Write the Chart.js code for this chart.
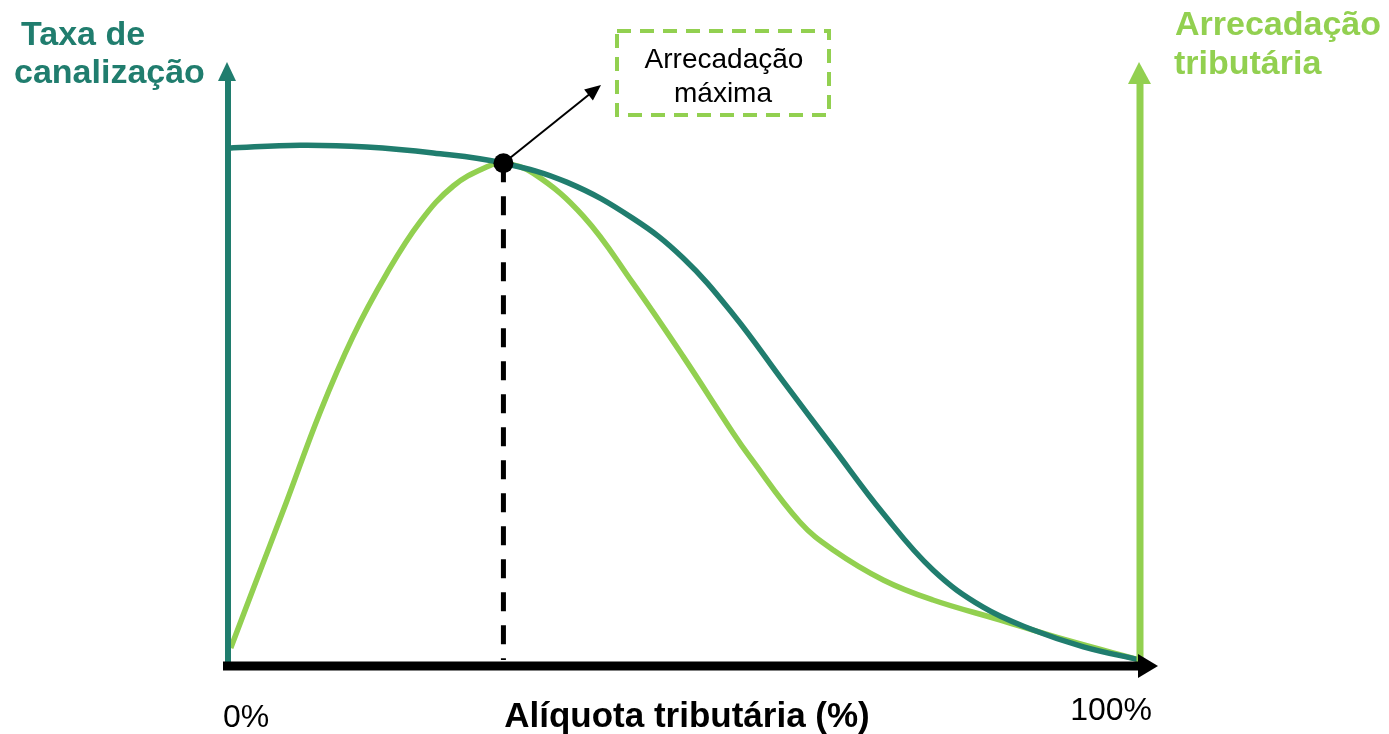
<!DOCTYPE html>
<html>
<head>
<meta charset="utf-8">
<script src="https://cdn.jsdelivr.net/npm/chart.js@4/dist/chart.umd.min.js"></script>
<style>
  html, body { margin: 0; padding: 0; background: #ffffff; }
  #wrap { width: 1389px; height: 734px; }
</style>
</head>
<body>
<div id="wrap"><canvas id="c" width="1389" height="734"></canvas></div>
<script>
// ---- Data (% of axis span) ----
const taxaX  = [0, 7.9, 15.2, 22.5, 30.2, 37.2, 44.4, 49.9, 55.4, 60.9, 66.3, 71.8, 77.3, 82.8, 88.3, 93.8, 100];
const taxaY  = [85.3, 85.8, 85.5, 84.5, 82.8, 79.6, 73.6, 67.0, 57.6, 46.4, 35.5, 24.5, 15.0, 8.8, 5.0, 2.2, 0];
const arrecX = [0.3, 2.8, 6.4, 10.1, 13.7, 17.4, 21.1, 24.7, 28.4, 30.2, 33.5, 39.0, 44.4, 49.9, 55.4, 57.2, 62.7, 66.4, 71.9, 77.3, 84.6, 92.0, 100];
const arrecY = [2.0, 12.0, 26.3, 41.3, 53.9, 64.4, 73.1, 79.0, 82.2, 82.8, 81.1, 73.9, 62.8, 50.6, 37.8, 33.9, 23.0, 18.3, 13.3, 10.0, 6.7, 3.3, 0];
const maxPoint = [30.2, 82.8];
const tickValues = [0, 100];
const tickLabels = ['0%', '100%'];
const xTitle = 'Alíquota tributária (%)';
const leftTitle = ['Taxa de', 'canalização'];
const rightTitle = ['Arrecadação', 'tributária'];
const boxText = ['Arrecadação', 'máxima'];

const TEAL = '#207D6E';
const GREEN = '#92D050';

const toPts = (xs, ys) => xs.map((v, i) => ({ x: v, y: ys[i] }));

const decor = {
  id: 'decor',
  afterDatasetsDraw(chart) {
    const { ctx, scales: { x, y } } = chart;
    const x0 = x.getPixelForValue(0), x1 = x.getPixelForValue(100);
    const y0 = y.getPixelForValue(0);
    ctx.save();

    // left axis (teal) with arrow
    ctx.strokeStyle = TEAL; ctx.lineWidth = 6;
    ctx.beginPath(); ctx.moveTo(x0, y0 + 8); ctx.lineTo(x0, 80); ctx.stroke();
    ctx.fillStyle = TEAL;
    ctx.beginPath(); ctx.moveTo(x0 - 1, 62); ctx.lineTo(x0 - 10, 81); ctx.lineTo(x0 + 8, 81); ctx.closePath(); ctx.fill();

    // right axis (green) with arrow
    ctx.strokeStyle = GREEN; ctx.lineWidth = 7;
    ctx.beginPath(); ctx.moveTo(x1, y0 + 2); ctx.lineTo(x1, 82); ctx.stroke();
    ctx.fillStyle = GREEN;
    ctx.beginPath(); ctx.moveTo(x1 - 1, 62); ctx.lineTo(x1 - 12, 84); ctx.lineTo(x1 + 11, 84); ctx.closePath(); ctx.fill();

    // x axis (black) with arrow
    const ya = y0 + 6;
    ctx.strokeStyle = '#000'; ctx.lineWidth = 9;
    ctx.beginPath(); ctx.moveTo(x0 - 5, ya); ctx.lineTo(x1 + 2, ya); ctx.stroke();
    ctx.fillStyle = '#000';
    ctx.beginPath(); ctx.moveTo(x1 + 18, ya); ctx.lineTo(x1 - 2, ya - 12); ctx.lineTo(x1 - 2, ya + 12); ctx.closePath(); ctx.fill();

    // annotation arrow from max point to box
    const px = x.getPixelForValue(maxPoint[0]), py = y.getPixelForValue(maxPoint[1]);
    const tx = 601, ty = 85;
    const ang = Math.atan2(ty - py, tx - px);
    ctx.strokeStyle = '#000'; ctx.lineWidth = 2;
    ctx.beginPath(); ctx.moveTo(px, py); ctx.lineTo(tx - 12 * Math.cos(ang), ty - 12 * Math.sin(ang)); ctx.stroke();
    ctx.beginPath();
    ctx.moveTo(tx, ty);
    ctx.lineTo(tx - 16 * Math.cos(ang) + 7 * Math.sin(ang), ty - 16 * Math.sin(ang) - 7 * Math.cos(ang));
    ctx.lineTo(tx - 16 * Math.cos(ang) - 7 * Math.sin(ang), ty - 16 * Math.sin(ang) + 7 * Math.cos(ang));
    ctx.closePath(); ctx.fill();

    // dashed box
    ctx.strokeStyle = GREEN; ctx.lineWidth = 4; ctx.setLineDash([14, 9]);
    ctx.beginPath(); ctx.rect(617, 31, 212, 84); ctx.stroke();
    ctx.setLineDash([]);
    ctx.fillStyle = '#000';
    ctx.font = '28px "Liberation Sans", Arial, sans-serif';
    ctx.textAlign = 'center'; ctx.textBaseline = 'alphabetic';
    ctx.fillText(boxText[0], 724, 68);
    ctx.fillText(boxText[1], 723, 102);

    // titles
    ctx.font = 'bold 34px "Liberation Sans", Arial, sans-serif';
    ctx.textAlign = 'left';
    ctx.fillStyle = TEAL;
    ctx.fillText(leftTitle[0], 21, 45);
    ctx.fillText(leftTitle[1], 14, 83);
    ctx.fillStyle = GREEN;
    ctx.fillText(rightTitle[0], 1175, 35);
    ctx.fillText(rightTitle[1], 1174, 74);

    // x title & tick labels
    ctx.fillStyle = '#000';
    ctx.font = 'bold 35px "Liberation Sans", Arial, sans-serif';
    ctx.textAlign = 'center';
    ctx.fillText(xTitle, 687, 727);
    ctx.font = '32px "Liberation Sans", Arial, sans-serif';
    ctx.textAlign = 'left';
    ctx.fillText(tickLabels[0], x.getPixelForValue(tickValues[0]) - 5, 727);
    ctx.textAlign = 'right';
    ctx.fillText(tickLabels[1], x.getPixelForValue(tickValues[1]) + 12, 720);

    ctx.restore();
  }
};

new Chart(document.getElementById('c'), {
  type: 'line',
  data: {
    datasets: [
      { label: 'máx', data: [{ x: maxPoint[0], y: maxPoint[1] }], showLine: false,
        pointRadius: 10, pointBackgroundColor: '#000', pointBorderWidth: 0, order: 0 },
      { label: 'Taxa de canalização', data: toPts(taxaX, taxaY), borderColor: TEAL, borderWidth: 5.5,
        pointRadius: 0, tension: 0.4, fill: false, order: 1, clip: false },
      { label: 'Arrecadação tributária', data: toPts(arrecX, arrecY), borderColor: GREEN, borderWidth: 5.5,
        pointRadius: 0, tension: 0.4, fill: false, order: 2, clip: false },
      { label: 'guia', data: [{ x: maxPoint[0], y: maxPoint[1] }, { x: maxPoint[0], y: 0 }],
        borderColor: '#000', borderWidth: 5, borderDash: [19, 14], borderDashOffset: 0,
        pointRadius: 0, tension: 0, order: 3, clip: false }
    ]
  },
  options: {
    responsive: false,
    animation: false,
    layout: { padding: { left: 228, right: 249, top: 60, bottom: 74 } },
    plugins: { legend: { display: false }, tooltip: { enabled: false } },
    scales: {
      x: { type: 'linear', min: 0, max: 100, display: false },
      y: { type: 'linear', min: 0, max: 100, display: false }
    }
  },
  plugins: [decor]
});
</script>
</body>
</html>
